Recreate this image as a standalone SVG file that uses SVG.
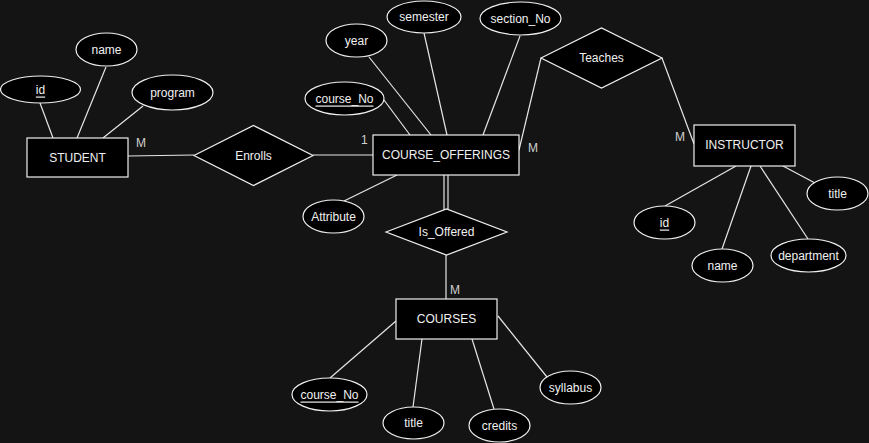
<svg xmlns="http://www.w3.org/2000/svg" width="869" height="443" viewBox="0 0 869 443">
<style>
.bg{fill:#141414}
.shape{fill:#000;stroke:#f0f0f0;stroke-width:1.2}
.ln{stroke:#e6e6e6;stroke-width:1.2;fill:none}
text{font-family:"Liberation Sans",Arial,sans-serif;font-size:12px;fill:#f0f0f0;text-anchor:middle;dominant-baseline:central}
.card{fill:#d0d0d0;text-anchor:start}
.u{text-decoration:underline}
</style>
<rect class="bg" x="0" y="0" width="869" height="443"/>
<g id="connectors">
<line class="ln" x1="40" y1="103" x2="53" y2="138"/>
<line class="ln" x1="106" y1="67" x2="77" y2="138"/>
<line class="ln" x1="143" y1="106" x2="103" y2="138"/>
<line class="ln" x1="128" y1="156" x2="194" y2="155"/>
<line class="ln" x1="313" y1="155" x2="373" y2="155"/>
<line class="ln" x1="384" y1="100" x2="410" y2="135"/>
<line class="ln" x1="369" y1="57" x2="431" y2="135"/>
<line class="ln" x1="424" y1="33" x2="447" y2="135"/>
<line class="ln" x1="520" y1="36" x2="483" y2="135"/>
<line class="ln" x1="541" y1="58" x2="519" y2="150"/>
<line class="ln" x1="662" y1="58" x2="694" y2="144"/>
<line class="ln" x1="736" y1="166" x2="665" y2="206"/>
<line class="ln" x1="751" y1="166" x2="722" y2="249"/>
<line class="ln" x1="760" y1="166" x2="808" y2="239"/>
<line class="ln" x1="783" y1="166" x2="815" y2="183"/>
<line class="ln" x1="342" y1="202" x2="397" y2="175"/>
<line class="ln" x1="444" y1="175" x2="444" y2="210"/>
<line class="ln" x1="448" y1="175" x2="448" y2="210"/>
<line class="ln" x1="446" y1="255" x2="446" y2="299"/>
<line class="ln" x1="330" y1="378" x2="396" y2="321"/>
<line class="ln" x1="413" y1="407" x2="422" y2="339"/>
<line class="ln" x1="494" y1="409" x2="472" y2="339"/>
<line class="ln" x1="547" y1="377" x2="498" y2="316"/>
<text class="card" x="136" y="143">M</text>
<text class="card" x="361" y="140">1</text>
<text class="card" x="528" y="148">M</text>
<text class="card" x="675" y="137">M</text>
<text class="card" x="450" y="290">M</text>
</g>
<g id="student"><rect class="shape" x="27" y="138" width="101" height="39"/><text x="77.5" y="157.5">STUDENT</text></g>
<g id="student_id"><ellipse class="shape" cx="40.5" cy="89.5" rx="40" ry="13.5"/><text class="u" x="40.5" y="89.5">id</text></g>
<g id="student_name"><ellipse class="shape" cx="106.5" cy="49.5" rx="30.5" ry="16.5"/><text x="106.5" y="49.5">name</text></g>
<g id="student_program"><ellipse class="shape" cx="172.5" cy="92.5" rx="40.5" ry="17.5"/><text x="172.5" y="92.5">program</text></g>
<g id="enrolls"><polygon class="shape" points="194,155.5 253.5,125.5 313,155.5 253.5,185.5"/><text x="253.5" y="155.5">Enrolls</text></g>
<g id="course_offerings"><rect class="shape" x="373" y="135" width="146" height="40"/><text x="446" y="155">COURSE_OFFERINGS</text></g>
<g id="co_course_no"><ellipse class="shape" cx="344.5" cy="98.5" rx="39.5" ry="16.5"/><text class="u" x="344.5" y="98.5">course_No</text></g>
<g id="co_year"><ellipse class="shape" cx="356.5" cy="40.5" rx="30.5" ry="16.5"/><text x="356.5" y="40.5">year</text></g>
<g id="co_semester"><ellipse class="shape" cx="424" cy="17" rx="37" ry="16"/><text x="424" y="17">semester</text></g>
<g id="co_section_no"><ellipse class="shape" cx="520.5" cy="18.5" rx="40.5" ry="16.5"/><text x="520.5" y="18.5">section_No</text></g>
<g id="co_attribute"><ellipse class="shape" cx="333.5" cy="216.5" rx="30.5" ry="16.5"/><text x="333.5" y="216.5">Attribute</text></g>
<g id="teaches"><polygon class="shape" points="541,58 601.5,28 662,58 601.5,88"/><text x="601.5" y="57.5">Teaches</text></g>
<g id="instructor"><rect class="shape" x="694" y="125" width="101" height="41"/><text x="744.5" y="145">INSTRUCTOR</text></g>
<g id="instr_id"><ellipse class="shape" cx="664.5" cy="222.5" rx="30.5" ry="16.5"/><text class="u" x="664.5" y="222.5">id</text></g>
<g id="instr_name"><ellipse class="shape" cx="722.5" cy="265.5" rx="30.5" ry="16.5"/><text x="722.5" y="265.5">name</text></g>
<g id="instr_department"><ellipse class="shape" cx="808.5" cy="255.5" rx="37.5" ry="16.5"/><text x="808.5" y="255.5">department</text></g>
<g id="instr_title"><ellipse class="shape" cx="837.5" cy="193.5" rx="30.5" ry="16.5"/><text x="837.5" y="193.5">title</text></g>
<g id="is_offered"><polygon class="shape" points="386,232 446.5,209 507,232 446.5,255"/><text x="446.5" y="232">Is_Offered</text></g>
<g id="courses"><rect class="shape" x="396" y="299" width="101" height="40"/><text x="446.5" y="319">COURSES</text></g>
<g id="c_course_no"><ellipse class="shape" cx="329.5" cy="394.5" rx="37.5" ry="16.5"/><text class="u" x="329.5" y="394.5">course_No</text></g>
<g id="c_title"><ellipse class="shape" cx="413.5" cy="423" rx="30.5" ry="16"/><text x="413.5" y="423">title</text></g>
<g id="c_credits"><ellipse class="shape" cx="499.5" cy="425.5" rx="30.5" ry="16.5"/><text x="499.5" y="425.5">credits</text></g>
<g id="c_syllabus"><ellipse class="shape" cx="570.5" cy="387.5" rx="30.5" ry="16.5"/><text x="570.5" y="387.5">syllabus</text></g>
</svg>
